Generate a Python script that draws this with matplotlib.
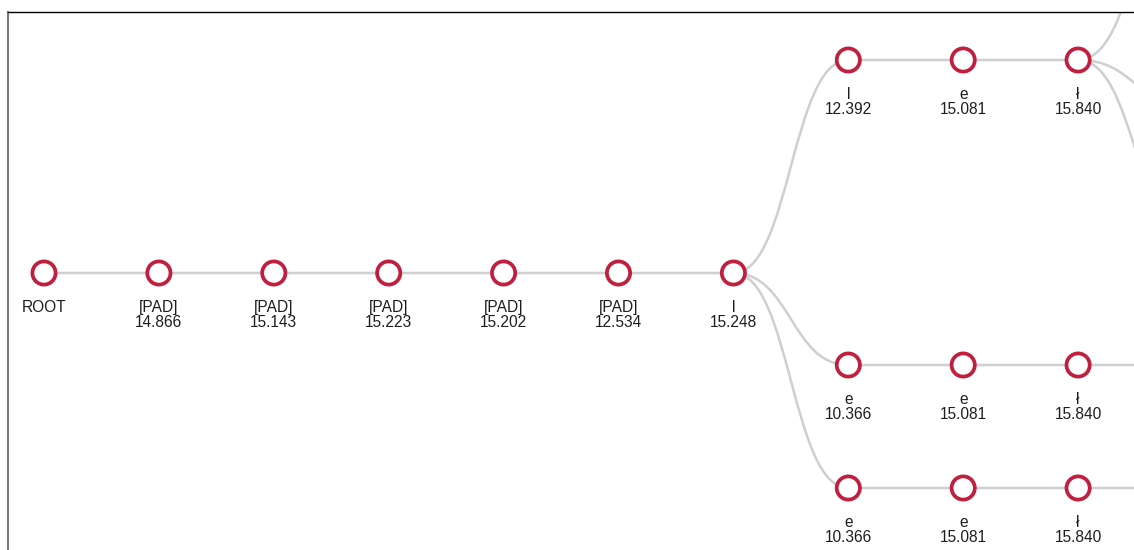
import matplotlib
matplotlib.use("Agg")
import matplotlib.pyplot as plt
from matplotlib.path import Path
from matplotlib.patches import PathPatch, Circle

# ---- data ----
tokens = ["ROOT", "[PAD]", "[PAD]", "[PAD]", "[PAD]", "[PAD]", "l",
          "l", "e", "ł",
          "e", "e", "ł",
          "e", "e", "ł",
          None, None, None, None, None]
scores = [None, 14.866, 15.143, 15.223, 15.202, 12.534, 15.248,
          12.392, 15.081, 15.840,
          10.366, 15.081, 15.840,
          10.366, 15.081, 15.840,
          None, None, None, None, None]
parents = [-1, 0, 1, 2, 3, 4, 5,
           6, 7, 8,
           6, 10, 11,
           6, 13, 14,
           9, 9, 9, 12, 15]

# ---- layout (pixels) ----
row_y = [273, 273, 273, 273, 273, 273, 273,
         60, 60, 60,
         365, 365, 365,
         488, 488, 488,
         -122, 108, 240, 365, 488]
X0, STEP = 44, 114.9
W, H = 1134, 550
FRAME_L, FRAME_T = 8, 12

NODE_COLOR = "#c0203e"
LINK_COLOR = "#cfcfcf"
TEXT_COLOR = "#1e1e1e"

def depth(i):
    d = 0
    while parents[i] >= 0:
        i = parents[i]
        d += 1
    return d

xs = [X0 + depth(i) * STEP for i in range(len(tokens))]
ys = row_y

fig = plt.figure(figsize=(W / 100, H / 100), dpi=100)
fig.patch.set_facecolor("white")
ax = fig.add_axes([FRAME_L / W, 0, 1 - FRAME_L / W, 1 - FRAME_T / H])
ax.set_xlim(FRAME_L, W)
ax.set_ylim(H, FRAME_T)
ax.set_xticks([])
ax.set_yticks([])
for s in ["right", "bottom"]:
    ax.spines[s].set_visible(False)
ax.spines["top"].set_color("black")
ax.spines["top"].set_linewidth(1.0)
ax.spines["left"].set_color("#7a7a7a")
ax.spines["left"].set_linewidth(1.5)

# links (horizontal cubic bezier)
for i, p in enumerate(parents):
    if p < 0:
        continue
    x0, y0, x1, y1 = xs[p], ys[p], xs[i], ys[i]
    xm = (x0 + x1) / 2
    path = Path([(x0, y0), (xm, y0), (xm, y1), (x1, y1)],
                [Path.MOVETO, Path.CURVE4, Path.CURVE4, Path.CURVE4])
    ax.add_patch(PathPatch(path, facecolor="none", edgecolor=LINK_COLOR,
                           linewidth=1.8, zorder=1))

# nodes and labels
FONT = ["Liberation Sans", "DejaVu Sans"]
for i in range(len(tokens)):
    if tokens[i] is None:
        continue
    ax.add_patch(Circle((xs[i], ys[i]), 11.6, facecolor="white",
                        edgecolor=NODE_COLOR, linewidth=2.7, zorder=2))
    ax.text(xs[i], ys[i] + 34, tokens[i], ha="center", va="center",
            fontsize=11.2, family=FONT, color=TEXT_COLOR, zorder=3)
    if scores[i] is not None:
        ax.text(xs[i], ys[i] + 49.5, f"{scores[i]:.3f}", ha="center",
                va="center", fontsize=11.2, family=FONT,
                color=TEXT_COLOR, zorder=3)

fig.savefig("out.png", dpi=100, facecolor="white")
